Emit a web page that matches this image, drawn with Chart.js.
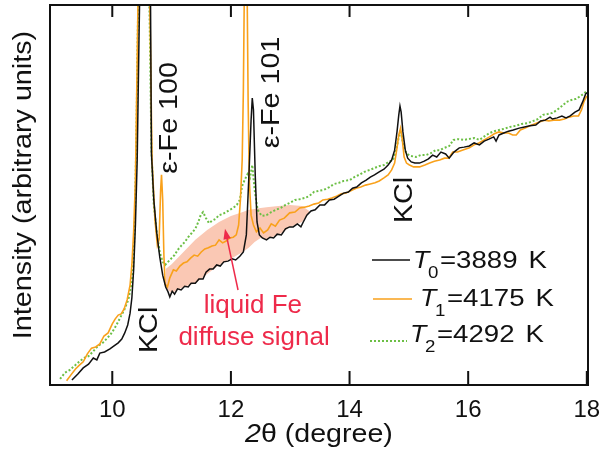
<!DOCTYPE html>
<html>
<head>
<meta charset="utf-8">
<script src="https://cdn.jsdelivr.net/npm/chart.js@4.4.1/dist/chart.umd.min.js"></script>
<style>
  html, body { margin: 0; padding: 0; background: #fff; }
  #wrap { width: 601px; height: 449px; position: relative; }
</style>
</head>
<body>
<div id="wrap"><canvas id="graf"></canvas></div>
<script>
// 2θ (degree) and intensity (arbitrary units) for each temperature
const x0 = [9.32, 9.42, 9.51, 9.60, 9.68, 9.74, 9.79, 9.87, 9.96, 10.03, 10.10, 10.16, 10.21, 10.26, 10.30, 10.33, 10.36, 10.39, 10.42, 10.45, 10.48, 10.55, 10.62, 10.645, 10.66, 10.70, 10.75, 10.80, 10.85, 10.90, 10.94, 10.97, 11.01, 11.05, 11.10, 11.16, 11.22, 11.28, 11.33, 11.40, 11.46, 11.53, 11.58, 11.64, 11.70, 11.76, 11.82, 11.88, 11.95, 12.02, 12.08, 12.15, 12.21, 12.26, 12.30, 12.34, 12.36, 12.38, 12.41, 12.44, 12.48, 12.53, 12.60, 12.66, 12.72, 12.78, 12.85, 12.92, 12.99, 13.05, 13.12, 13.18, 13.22, 13.28, 13.35, 13.42, 13.50, 13.58, 13.66, 13.74, 13.82, 13.90, 13.98, 14.05, 14.12, 14.20, 14.28, 14.35, 14.42, 14.50, 14.58, 14.65, 14.71, 14.76, 14.80, 14.83, 14.85, 14.87, 14.90, 14.94, 14.98, 15.04, 15.10, 15.18, 15.26, 15.33, 15.40, 15.47, 15.54, 15.62, 15.68, 15.76, 15.85, 15.93, 16.02, 16.10, 16.19, 16.27, 16.35, 16.43, 16.47, 16.52, 16.60, 16.68, 16.76, 16.86, 16.95, 17.04, 17.14, 17.22, 17.30, 17.38, 17.42, 17.50, 17.58, 17.65, 17.72, 17.80, 17.87, 17.93, 17.98, 18.02]
const y0 = [1.3, 2.9, 4.5, 5.5, 7.1, 6.6, 8.4, 8.7, 9.5, 10.3, 11.1, 12.1, 13.7, 15.8, 18.9, 22.9, 30.3, 42.1, 59.2, 90.8, 120, 150, 120, 100, 61, 48.7, 40, 33.7, 28.9, 25.8, 24.5, 23.2, 24.7, 23.9, 25.3, 25, 26, 25.8, 26.8, 26.8, 27.9, 27.9, 29.7, 30.5, 30.5, 31.6, 31.3, 32.4, 32.6, 33.2, 32.9, 33.9, 35, 39.5, 53.9, 69.7, 75.5, 72.4, 55.3, 42.9, 39.5, 38.7, 38.2, 38.9, 38.7, 39.7, 39.5, 41.1, 41.6, 41.6, 42.4, 41.6, 42.9, 44.7, 45.8, 46.1, 47.4, 47.4, 48.7, 48.9, 49.7, 50.5, 50.8, 51.8, 52.1, 53.2, 53.9, 54.7, 55.3, 56.1, 56.8, 57.9, 59.2, 61.8, 66.6, 71.1, 73.4, 71.8, 66.6, 61.8, 59.7, 58.7, 58.4, 58.4, 58.9, 59.5, 60.5, 60, 61.3, 60.8, 59.7, 61.3, 62.4, 62.6, 62.9, 63.7, 63.2, 64.2, 64.7, 65.3, 64.2, 65.8, 66.3, 66.8, 67.1, 67.6, 67.9, 68.2, 68.4, 69.5, 69.7, 70.5, 70, 70.3, 70.8, 70.3, 70.8, 71.8, 72.4, 74.5, 76.6, 77.1]

const x1 = [9.23, 9.30, 9.38, 9.45, 9.51, 9.58, 9.65, 9.72, 9.79, 9.86, 9.93, 10.00, 10.05, 10.10, 10.15, 10.20, 10.25, 10.30, 10.33, 10.36, 10.39, 10.42, 10.45, 10.53, 10.61, 10.64, 10.67, 10.72, 10.76, 10.79, 10.815, 10.83, 10.85, 10.87, 10.89, 10.93, 10.97, 11.03, 11.08, 11.14, 11.20, 11.26, 11.32, 11.38, 11.44, 11.50, 11.56, 11.62, 11.68, 11.74, 11.80, 11.86, 11.92, 11.98, 12.04, 12.09, 12.13, 12.16, 12.19, 12.21, 12.23, 12.25, 12.27, 12.29, 12.31, 12.34, 12.38, 12.43, 12.49, 12.55, 12.62, 12.68, 12.75, 12.82, 12.90, 12.99, 13.08, 13.16, 13.24, 13.32, 13.40, 13.48, 13.55, 13.63, 13.70, 13.78, 13.86, 13.94, 14.02, 14.11, 14.19, 14.27, 14.35, 14.43, 14.50, 14.58, 14.65, 14.71, 14.76, 14.80, 14.83, 14.86, 14.89, 14.92, 14.96, 15.01, 15.08, 15.18, 15.27, 15.35, 15.43, 15.52, 15.60, 15.67, 15.74, 15.82, 15.90, 16.02, 16.10, 16.18, 16.27, 16.36, 16.44, 16.52, 16.60, 16.68, 16.75, 16.81, 16.88, 16.96, 17.04, 17.12, 17.20, 17.28, 17.36, 17.44, 17.54, 17.62, 17.70, 17.78, 17.86, 17.91, 17.95, 18.0]
const y1 = [1.1, 2.6, 4.2, 5.3, 6.1, 8.2, 9.7, 10, 10.8, 12.9, 13.7, 16.1, 17.4, 18.4, 18.7, 20, 22.4, 26.3, 31.6, 40.3, 53.9, 85.5, 120, 150, 120, 93.4, 59.2, 43.4, 36.8, 38.4, 51.3, 55.3, 48.7, 34.2, 26.6, 25.8, 28.2, 30.3, 30, 31.3, 32.1, 32.4, 33.4, 34.2, 33.9, 35, 35.8, 36.1, 36.6, 36.8, 38.2, 37.4, 37.9, 38.7, 38.9, 39.5, 42.1, 48.7, 59.2, 77.6, 110, 125, 110, 75, 53.9, 44.7, 42.1, 40.3, 41.3, 40, 40.8, 42.4, 41.8, 43.4, 43.9, 45.3, 45.5, 46.6, 46.8, 47.1, 47.6, 47.9, 48.7, 48.9, 49.2, 49.7, 50.3, 50.5, 51.1, 51.8, 52.1, 52.6, 52.9, 53.2, 53.7, 54.5, 55.3, 56.6, 58.4, 62.4, 65.8, 67.6, 64.5, 60, 58.4, 57.9, 57.4, 57.4, 57.9, 58.4, 58.9, 59.2, 59.7, 59.7, 61.3, 61.3, 61.8, 62.4, 63.2, 63.7, 64.5, 65.3, 66.1, 66.6, 66.3, 66.3, 65.8, 65.8, 67.1, 67.6, 68.2, 68.7, 69.2, 69.7, 69.5, 69.7, 69.7, 70, 70.5, 70.8, 70.8, 72.4, 74.5, 76.1]

const x2 = [9.12, 9.20, 9.28, 9.36, 9.44, 9.52, 9.60, 9.68, 9.76, 9.84, 9.92, 9.99, 10.06, 10.13, 10.20, 10.27, 10.32, 10.35, 10.38, 10.41, 10.43, 10.46, 10.54, 10.60, 10.63, 10.66, 10.70, 10.75, 10.80, 10.85, 10.89, 10.94, 11.00, 11.05, 11.10, 11.16, 11.22, 11.28, 11.34, 11.40, 11.45, 11.49, 11.53, 11.58, 11.63, 11.68, 11.74, 11.80, 11.86, 11.92, 11.98, 12.04, 12.10, 12.15, 12.19, 12.23, 12.28, 12.32, 12.36, 12.40, 12.45, 12.52, 12.60, 12.68, 12.76, 12.84, 12.92, 12.99, 13.08, 13.16, 13.24, 13.32, 13.40, 13.48, 13.56, 13.66, 13.74, 13.82, 13.90, 14.00, 14.08, 14.16, 14.25, 14.34, 14.42, 14.50, 14.58, 14.66, 14.73, 14.78, 14.82, 14.86, 14.89, 14.93, 14.97, 15.03, 15.12, 15.20, 15.29, 15.37, 15.45, 15.52, 15.60, 15.68, 15.75, 15.84, 15.92, 16.00, 16.10, 16.19, 16.28, 16.36, 16.44, 16.52, 16.60, 16.70, 16.80, 16.90, 17.00, 17.10, 17.18, 17.26, 17.34, 17.42, 17.50, 17.58, 17.66, 17.74, 17.82, 17.90, 17.96, 18.0]
const y2 = [1.6, 3.2, 3.9, 5, 6.1, 7.1, 7.6, 8.9, 10.3, 11.1, 12.4, 13.7, 15.5, 17.6, 19.7, 22.4, 26.3, 30.3, 42.1, 69.7, 93.4, 120, 150, 120, 96, 61.8, 47.4, 40, 35, 32.4, 31.6, 32.4, 33.4, 34.2, 35.5, 36.6, 37.6, 38.9, 40, 41.1, 42.9, 44.7, 45.5, 43.9, 42.6, 43.2, 43.7, 44.7, 45, 45.5, 46.1, 46.6, 47.4, 48.7, 52.4, 53.9, 55.5, 54.5, 57.9, 51.3, 46.1, 44.5, 44.7, 45.5, 46.1, 46.6, 47.4, 47.9, 48.7, 48.9, 49.2, 49.7, 50.8, 51.1, 51.3, 52.1, 52.9, 53.2, 53.7, 53.9, 54.7, 55.3, 56.1, 56.6, 57.1, 57.6, 57.9, 58.7, 59.2, 61.3, 64.5, 67.1, 64.5, 61.8, 60.8, 60.3, 60, 60.5, 60.5, 61, 61.8, 61.8, 62.4, 62.9, 64.5, 64.7, 64.5, 64.7, 65, 64.5, 65.5, 66.3, 66.8, 67.1, 67.4, 67.9, 68.2, 68.7, 68.9, 69.5, 70, 71.1, 71.3, 71.6, 72.4, 73.4, 74.5, 75, 75.3, 76.1, 76.8, 77.4]

// shaded liquid Fe diffuse signal (band between upper and lower edge)
const bandX = [10.90, 11.0, 11.2, 11.4, 11.6, 11.8, 12.0, 12.2, 12.3, 12.4, 12.5, 12.6, 12.8, 13.0, 13.2, 13.32]
const bandTop = [30.5, 31.8, 35, 38.2, 40.8, 42.9, 44.5, 45.5, 46.1, 46.3, 46.6, 46.8, 47.1, 47.4, 47.1, 45.8]
const bandLow = [25.5, 24.2, 25.8, 26.8, 29.2, 31.6, 33.2, 35, 36.1, 37.6, 38.7, 38.4, 39.5, 41.6, 42.9, 45.5]

const tickVals = [10, 12, 14, 16, 18]
const tickLabels = ['10', '12', '14', '16', '18']
const seriesSub = ['0', '1', '2']
const seriesTemp = ['=3889', '=4175', '=4292']

const BLACK = '#111111'
const ORANGE = '#f9a11b'
const GREEN = '#6cbf45'
const RED = '#ee2a4a'
const FONT = '"Liberation Sans", Arial, sans-serif'

const pts = (xs, ys) => xs.map((x, i) => ({ x: x, y: ys[i] }))

// vertical text, reading bottom to top
function vtext(ctx, str, x, y, size, color, stretch) {
  ctx.save()
  ctx.translate(x, y)
  ctx.rotate(-Math.PI / 2)
  ctx.scale(stretch, 1)
  ctx.font = size + 'px ' + FONT
  ctx.fillStyle = color
  ctx.textAlign = 'center'
  ctx.textBaseline = 'middle'
  ctx.fillText(str, 0, 0)
  ctx.restore()
}

// horizontal text, left aligned on the baseline, widened by sx; returns end x
function htext(ctx, str, x, y, font, sx) {
  ctx.save()
  ctx.font = font
  ctx.textAlign = 'left'
  ctx.textBaseline = 'alphabetic'
  const w = ctx.measureText(str).width * sx
  ctx.translate(x, y)
  ctx.scale(sx, 1)
  ctx.fillText(str, 0, 0)
  ctx.restore()
  return x + w
}

// frame, inward ticks, labels, legend and annotations
const decor = {
  id: 'decor',
  afterDraw(chart) {
    const ctx = chart.ctx
    const a = chart.chartArea
    const xs = chart.scales.x
    const ys = chart.scales.y
    ctx.save()
    ctx.strokeStyle = BLACK
    ctx.fillStyle = BLACK
    ctx.lineWidth = 2
    ctx.strokeRect(a.left, a.top, a.right - a.left, a.bottom - a.top)
    tickVals.forEach((v, i) => {
      const px = xs.getPixelForValue(v)
      ctx.beginPath()
      ctx.moveTo(px, a.bottom); ctx.lineTo(px, a.bottom - 14)
      ctx.moveTo(px, a.top); ctx.lineTo(px, a.top + 12)
      ctx.stroke()
      ctx.font = '24px ' + FONT
      ctx.textAlign = 'center'
      ctx.textBaseline = 'middle'
      ctx.fillText(tickLabels[i], px, a.bottom + 25)
    })

    // x axis title
    let cx = htext(ctx, '2', 245, 442, 'italic 26px ' + FONT, 1.1)
    htext(ctx, 'θ (degree)', cx, 442, '26px ' + FONT, 1.1)

    // y axis title
    vtext(ctx, 'Intensity (arbitrary units)', 24, 185, 25, BLACK, 1.15)

    // peak labels
    const X = v => xs.getPixelForValue(v)
    const Y = v => ys.getPixelForValue(v)
    vtext(ctx, 'ε-Fe 100', X(10.97), Y(70.3), 25, BLACK, 1.15)
    vtext(ctx, 'ε-Fe 101', X(12.69), Y(77.0), 25, BLACK, 1.15)
    vtext(ctx, 'KCl', X(10.64), Y(14.5), 25, BLACK, 1.15)
    vtext(ctx, 'KCl', X(14.93), Y(48.7), 25, BLACK, 1.15)

    // liquid Fe label and arrow
    ctx.font = '26px ' + FONT
    ctx.fillStyle = RED
    ctx.textAlign = 'center'
    ctx.textBaseline = 'middle'
    ctx.fillText('liquid Fe', X(12.37), Y(20.8))
    ctx.fillText('diffuse signal', X(12.39), Y(12.4))
    const ax0 = X(12.12), ay0 = Y(25.0), ax1 = X(11.90), ay1 = Y(41.1)
    const ang = Math.atan2(ay1 - ay0, ax1 - ax0)
    ctx.strokeStyle = RED
    ctx.lineWidth = 1.5
    ctx.beginPath()
    ctx.moveTo(ax0, ay0); ctx.lineTo(ax1 - 6 * Math.cos(ang), ay1 - 6 * Math.sin(ang))
    ctx.stroke()
    ctx.beginPath()
    ctx.moveTo(ax1, ay1)
    ctx.lineTo(ax1 - 11 * Math.cos(ang - 0.35), ay1 - 11 * Math.sin(ang - 0.35))
    ctx.lineTo(ax1 - 11 * Math.cos(ang + 0.35), ay1 - 11 * Math.sin(ang + 0.35))
    ctx.closePath()
    ctx.fill()

    // legend
    const rows = [
      { c: BLACK, dash: [], lx: [372, 410], ly: 260, tx: 413, by: 268 },
      { c: ORANGE, dash: [], lx: [373, 412], ly: 299, tx: 420, by: 306 },
      { c: GREEN, dash: [2, 2], lx: [370, 407], ly: 341, tx: 410, by: 342 }
    ]
    rows.forEach((r, i) => {
      ctx.strokeStyle = r.c
      ctx.lineWidth = r.dash.length ? 2 : 1.5
      ctx.setLineDash(r.dash)
      ctx.beginPath()
      ctx.moveTo(r.lx[0], r.ly); ctx.lineTo(r.lx[1], r.ly)
      ctx.stroke()
      ctx.setLineDash([])
      ctx.fillStyle = BLACK
      htext(ctx, 'T', r.tx, r.by, 'italic 23px ' + FONT, 1.16)
      htext(ctx, seriesSub[i], r.tx + 15, r.by + 10, '17px ' + FONT, 1.1)
      const end = htext(ctx, seriesTemp[i], r.tx + 27, r.by, '23px ' + FONT, 1.2)
      htext(ctx, 'K', end + 11, r.by, '23px ' + FONT, 1.2)
    })
    ctx.restore()
  }
}

const ctx = document.getElementById('graf').getContext('2d')
new Chart(ctx, {
  type: 'line',
  data: {
    datasets: [
      { label: 'T0', data: pts(x0, y0), borderColor: BLACK, borderWidth: 1.5 },
      { label: 'T1', data: pts(x1, y1), borderColor: ORANGE, borderWidth: 1.6 },
      { label: 'T2', data: pts(x2, y2), borderColor: GREEN, borderWidth: 2, borderDash: [2, 2] },
      { label: 'band', data: pts(bandX, bandTop), borderWidth: 0, borderColor: 'rgba(0,0,0,0)', backgroundColor: '#fac8b4', fill: '+1' },
      { label: 'bandLow', data: pts(bandX, bandLow), borderWidth: 0, borderColor: 'rgba(0,0,0,0)' }
    ]
  },
  options: {
    responsive: true,
    maintainAspectRatio: false,
    animation: false,
    parsing: false,
    elements: { point: { radius: 0 }, line: { tension: 0, fill: false } },
    layout: { padding: { left: 50, right: 13, top: 5, bottom: 64 } },
    scales: {
      x: { type: 'linear', min: 8.95, max: 18.02, display: false },
      y: { type: 'linear', min: 0, max: 100, display: false }
    },
    plugins: {
      legend: { display: false },
      tooltip: { enabled: false }
    }
  },
  plugins: [decor]
})
</script>
</body>
</html>
